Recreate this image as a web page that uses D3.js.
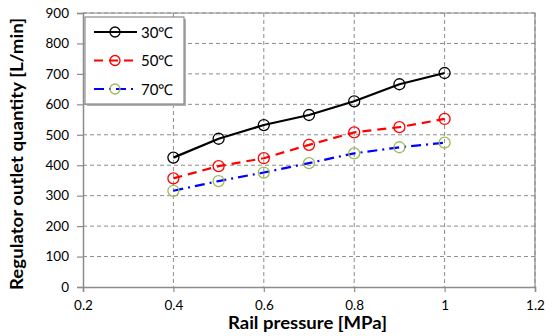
<!DOCTYPE html>
<html>
<head>
<meta charset="utf-8">
<script src="https://cdn.jsdelivr.net/npm/d3@7"></script>
<style>
  body { margin: 0; background: #fff; }
  text { font-family: Lato, "Open Sans", sans-serif; }
</style>
</head>
<body>
<svg id="chart"></svg>
<script>
const pressure = [0.4, 0.5, 0.6, 0.7, 0.8, 0.9, 1.0];
const flow30 = [425, 487, 532, 565, 610, 666, 703];
const flow50 = [357, 397, 423, 467, 508, 525, 552];
const flow70 = [316, 348, 376, 407, 439, 459, 474];
const seriesNames = ['30\u2103', '50\u2103', '70\u2103'];
const xTicks = [0.2, 0.4, 0.6, 0.8, 1, 1.2];
const yTicks = [0, 100, 200, 300, 400, 500, 600, 700, 800, 900];

const width = 556;
const height = 336;
const margin = { left: 83, right: 21, top: 13, bottom: 49 };

const svg = d3.select('#chart')
    .attr('width', width)
    .attr('height', height);

const x = d3.scaleLinear().domain([0.2, 1.2]).range([margin.left, width - margin.right]);
const y = d3.scaleLinear().domain([0, 900]).range([height - margin.bottom, margin.top]);

// grid
const grid = svg.append('g');
grid.selectAll('.hg')
    .data(yTicks.slice(1))
    .enter().append('line')
    .attr('x1', margin.left).attr('x2', width - margin.right)
    .attr('y1', d => y(d)).attr('y2', d => y(d))
    .attr('stroke', '#8c8c8c').attr('stroke-width', 1)
    .attr('stroke-dasharray', '4,3');
grid.selectAll('.vg')
    .data(xTicks.slice(1))
    .enter().append('line')
    .attr('x1', d => x(d)).attr('x2', d => x(d))
    .attr('y1', margin.top).attr('y2', height - margin.bottom)
    .attr('stroke', '#8c8c8c').attr('stroke-width', 1)
    .attr('stroke-dasharray', '4,3');

// plot frame top/right
svg.append('path')
    .attr('d', `M${margin.left},${margin.top}H${width - margin.right}V${height - margin.bottom}`)
    .attr('fill', 'none').attr('stroke', '#8c8c8c').attr('stroke-width', 1.2);

const xAxis = svg.append('g')
    .attr('transform', `translate(0,${height - margin.bottom})`)
    .call(d3.axisBottom(x).tickValues(xTicks).tickFormat(d3.format('')).tickSize(5).tickPadding(8));
const yAxis = svg.append('g')
    .attr('transform', `translate(${margin.left},0)`)
    .call(d3.axisLeft(y).tickValues(yTicks).tickSize(6).tickPadding(8));

[xAxis, yAxis].forEach(a => {
    a.select('.domain').attr('stroke', '#8c8c8c').attr('stroke-width', 1.5);
    a.selectAll('.tick line').attr('stroke', '#8c8c8c').attr('stroke-width', 1.2);
    a.selectAll('text').attr('font-size', 13.5).attr('fill', '#000')
        .style('font-family', 'Lato, sans-serif');
});

// series
const series = [
    { name: seriesNames[0], values: flow30, color: '#000', dash: null, marker: '#000' },
    { name: seriesNames[1], values: flow50, color: '#ff0000', dash: '9,6', marker: '#ff0000' },
    { name: seriesNames[2], values: flow70, color: '#0000ff', dash: '10,5,2,5', marker: '#9bbb59' }
];

const line = d3.line().x(d => x(d[0])).y(d => y(d[1]));

series.forEach(s => {
    const pts = pressure.map((p, i) => [p, s.values[i]]);
    svg.append('path')
        .datum(pts)
        .attr('d', line)
        .attr('fill', 'none')
        .attr('stroke', s.color)
        .attr('stroke-width', 2.2)
        .attr('stroke-dasharray', s.dash);
    svg.append('g').selectAll('circle')
        .data(pts)
        .enter().append('circle')
        .attr('cx', d => x(d[0]))
        .attr('cy', d => y(d[1]))
        .attr('r', 5.5)
        .attr('fill', 'none')
        .attr('stroke', s.marker)
        .attr('stroke-width', 1.3);
});

// legend
const legend = svg.append('g');
legend.append('rect')
    .attr('x', 87).attr('y', 19).attr('width', 99).attr('height', 87)
    .attr('fill', '#b0b0b0');
legend.append('rect')
    .attr('x', 85).attr('y', 17).attr('width', 99).attr('height', 87)
    .attr('fill', '#fff').attr('stroke', '#8c8c8c').attr('stroke-width', 1.2);

series.forEach((s, i) => {
    const ly = 32 + i * 28.5;
    legend.append('line')
        .attr('x1', 94).attr('x2', 137).attr('y1', ly).attr('y2', ly)
        .attr('stroke', s.color).attr('stroke-width', 2.2)
        .attr('stroke-dasharray', s.dash);
    legend.append('circle')
        .attr('cx', 115).attr('cy', ly).attr('r', 5)
        .attr('fill', 'none').attr('stroke', s.marker).attr('stroke-width', 1.3);
    legend.append('text')
        .attr('x', 141).attr('y', ly + 5.5)
        .attr('font-size', 15)
        .text(s.name);
});

// axis titles
svg.append('text')
    .attr('x', (228 + 387) / 2).attr('y', 329)
    .attr('text-anchor', 'middle')
    .attr('font-size', 16.5).attr('font-weight', 'bold')
    .attr('textLength', 159).attr('lengthAdjust', 'spacingAndGlyphs')
    .text('Rail pressure [MPa]');

svg.append('text')
    .attr('transform', 'translate(23,154) rotate(-90)')
    .attr('text-anchor', 'middle')
    .attr('font-size', 16.5).attr('font-weight', 'bold')
    .attr('textLength', 272).attr('lengthAdjust', 'spacingAndGlyphs')
    .text('Regulator outlet quantity [L/min]');
</script>
</body>
</html>
